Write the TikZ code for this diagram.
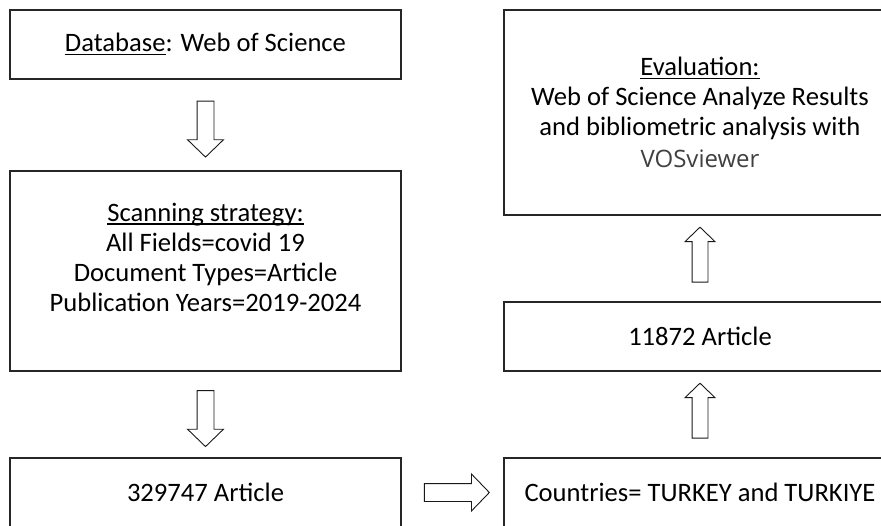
\documentclass[tikz,border=0pt]{standalone}
\usepackage{fontspec}
\setmainfont{Carlito}
\newfontfamily\vosfont{Open Sans}
\usetikzlibrary{shapes.arrows,calc}
\newsavebox\ulbox
\newcommand{\ulword}[1]{\sbox\ulbox{#1}\rlap{\rule[-3.5pt]{\wd\ulbox}{1.2pt}}\usebox\ulbox}
\newcommand{\boxfont}{\fontsize{26.6}{30}\selectfont}

\begin{document}
\begin{tikzpicture}[x=1pt,y=-1pt,
        box/.style={draw=black!85,line width=1.4pt,align=center,inner sep=0pt,font=\boxfont},
        fatarrow/.style args={#1/#2/#3}{single arrow,draw=black!90,line width=0.9pt,fill=white,
        inner xsep=0pt,inner ysep=#2,minimum width=0pt,minimum height=#1,
        single arrow head extend=#3,single arrow tip angle=92}]
        \clip (0,0) rectangle (881,525);
        % left column
        \node[box,minimum width=391pt,minimum height=69pt] (db) at (205.5,44.5) {\ulword{Database}: Web of Science};
        \node[box,minimum width=391pt,minimum height=200pt,text depth=28pt] (scan) at (205.5,271) {\ulword{Scanning strategy:}\\All Fields=covid 19\\Document Types=Article\\Publication Years=2019-2024};
        \node[box,minimum width=391pt,minimum height=69pt] (total) at (205.5,492.5) {329747 Article};
        % right column
        \node[box,minimum width=392pt,minimum height=69pt] (country) at (700,492.5) {Countries= TURKEY and TURKIYE};
        \node[box,minimum width=392pt,minimum height=69pt] (turk) at (700,336.5) {11872 Article};
        \node[box,minimum width=392pt,minimum height=205pt] (eval) at (700,112.5) {\ulword{Evaluation:}\\Web of Science Analyze Results\\and bibliometric analysis with\\[2pt]{\vosfont\fontsize{24}{30}\selectfont\color{black!75}VOSviewer}};
        % arrows
        \node[fatarrow=56pt/8pt/9.5pt,rotate=-90] (a1) at ($(db.south)!.5!(scan.north)$) {};
        \node[fatarrow=56pt/8pt/9.5pt,rotate=-90] (a2) at ($(scan.south)!.5!(total.north)$) {};
        \node[fatarrow=65pt/8.5pt/9.5pt] (a3) at ($(total.east)!.5!(country.west)$) {};
        \node[fatarrow=55pt/7.5pt/7pt,rotate=90] (a4) at ($(country.north)!.5!(turk.south)$) {};
        \node[fatarrow=55pt/7.5pt/7pt,rotate=90] (a5) at ($(turk.north)!.5!(eval.south)$) {};
\end{tikzpicture}
\end{document}
